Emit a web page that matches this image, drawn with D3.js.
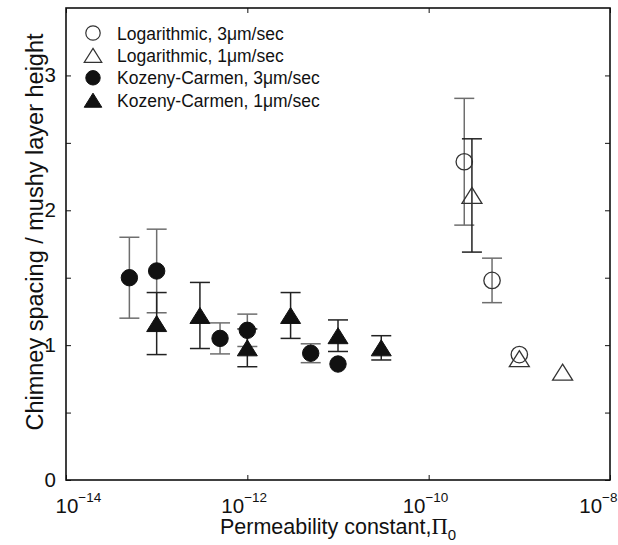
<!DOCTYPE html>
<html>
<head>
<meta charset="utf-8">
<script src="https://cdn.jsdelivr.net/npm/d3@7"></script>
<style>
  html, body { margin: 0; padding: 0; background: #fff; }
  svg { display: block; font-family: "Liberation Sans", Arial, Helvetica, sans-serif; }
</style>
</head>
<body>
<svg id="chart" width="618" height="545"></svg>
<script>
// Chimney spacing vs permeability constant, two permeability models at two pulling speeds
const logCircleX = [2.47e-10, 5e-10, 1e-9];
const logCircleY = [2.36, 1.48, 0.93];
const logCircleErr = [0.47, 0.165, 0];

const logTriX = [3e-10, 1e-9, 3e-9];
const logTriY = [2.11, 0.90, 0.80];
const logTriErr = [0.42, 0, 0];

const kcCircleX = [5e-14, 1e-13, 5e-13, 1e-12, 5e-12, 1e-11];
const kcCircleY = [1.50, 1.55, 1.05, 1.11, 0.94, 0.86];
const kcCircleErr = [0.30, 0.31, 0.115, 0.12, 0.07, 0];

const kcTriX = [1e-13, 3e-13, 1e-12, 3e-12, 1e-11, 3e-11];
const kcTriY = [1.16, 1.22, 0.98, 1.22, 1.07, 0.98];
const kcTriErr = [0.23, 0.245, 0.14, 0.17, 0.117, 0.09];

const xTickValues = [1e-14, 1e-12, 1e-10, 1e-8];
const xTickExponents = ["\u221214", "\u221212", "\u221210", "\u22128"];
const yTickValues = [0, 1, 2, 3];
const yMinorTicks = [0.5, 1.5, 2.5];

const legendLabels = [
  "Logarithmic, 3\u03BCm/sec",
  "Logarithmic, 1\u03BCm/sec",
  "Kozeny-Carmen, 3\u03BCm/sec",
  "Kozeny-Carmen, 1\u03BCm/sec"
];

const W = 618, H = 545;
const m = { left: 66, right: 8, top: 8, bottom: 65 };
const svg = d3.select("#chart");

const x = d3.scaleLog().domain([1e-14, 1e-8]).range([m.left, W - m.right]);
const y = d3.scaleLinear().domain([0, 3.5]).range([H - m.bottom, m.top]);

const zip = (xs, ys, es) => xs.map((v, i) => ({ x: v, y: ys[i], e: es[i] }));
const series = [
  { key: "logC", shape: "circle", filled: false, bar: "#6e6e6e", data: zip(logCircleX, logCircleY, logCircleErr) },
  { key: "logT", shape: "triangle", filled: false, bar: "#222", data: zip(logTriX, logTriY, logTriErr) },
  { key: "kcC", shape: "circle", filled: true, bar: "#6e6e6e", data: zip(kcCircleX, kcCircleY, kcCircleErr) },
  { key: "kcT", shape: "triangle", filled: true, bar: "#222", data: zip(kcTriX, kcTriY, kcTriErr) }
];

// Marker path builders (centered on the bounding box)
function markerPath(shape, s) {
  const p = d3.path();
  if (shape === "circle") {
    const r = 8.2 * s;
    p.arc(0, 0, r, 0, 2 * Math.PI);
  } else {
    const hw = 10 * s, hh = 8 * s;
    p.moveTo(0, -hh);
    p.lineTo(hw, hh);
    p.lineTo(-hw, hh);
    p.closePath();
  }
  return p.toString();
}

// Axes (ticks inward on all four sides)
const gx = svg.append("g")
  .attr("transform", `translate(0,${y(0)})`)
  .call(d3.axisBottom(x).tickValues(xTickValues).tickSizeInner(-5).tickSizeOuter(0).tickPadding(12).tickFormat(() => ""));
const nTicks = xTickValues.length;
gx.selectAll(".tick").each(function(d, i) {
  const t = d3.select(this).select("text")
    .attr("font-size", 20.5).attr("fill", "#111").attr("dy", "1em")
    .attr("text-anchor", "start");
  t.append("tspan").text("10");
  t.append("tspan").attr("font-size", 13.5).attr("dy", "-0.8em").text(xTickExponents[i]);
  const len = t.node().getComputedTextLength();
  let offset = -26.5;
  if (i === 0) offset = -11;                       // first label sits inside the frame corner
  if (i === nTicks - 1) offset = (W - 1) - x(d) - len; // last label flush with the page edge
  t.attr("x", offset);
});

svg.append("g")
  .attr("transform", `translate(0,${y(3.5)})`)
  .call(d3.axisBottom(x).tickValues(xTickValues).tickSizeInner(5).tickSizeOuter(0).tickFormat(() => ""));

const gy = svg.append("g")
  .attr("transform", `translate(${x(1e-14)},0)`)
  .call(d3.axisLeft(y).tickValues(yTickValues).tickSizeInner(-5).tickSizeOuter(0).tickPadding(10).tickFormat(d3.format("d")));
gy.selectAll(".tick text").attr("font-size", 20.5).attr("fill", "#111");

svg.append("g")
  .attr("transform", `translate(${x(1e-14)},0)`)
  .call(d3.axisLeft(y).tickValues(yMinorTicks).tickSizeInner(-5).tickSizeOuter(0).tickFormat(() => ""));

svg.append("g")
  .attr("transform", `translate(${x(1e-8)},0)`)
  .call(d3.axisLeft(y).tickValues(yTickValues.concat(yMinorTicks)).tickSizeInner(5).tickSizeOuter(0).tickFormat(() => ""));

svg.selectAll(".domain").remove();
svg.selectAll(".tick line").attr("stroke", "#111").attr("stroke-width", 1);

// Plot frame
svg.append("rect")
  .attr("x", x(1e-14)).attr("y", y(3.5))
  .attr("width", x(1e-8) - x(1e-14)).attr("height", y(0) - y(3.5))
  .attr("fill", "none").attr("stroke", "#111").attr("stroke-width", 1.6);

// Error bars
const capHalf = 10;
series.forEach(s => {
  const g = svg.append("g").attr("class", "err-" + s.key)
    .attr("stroke", s.bar).attr("stroke-width", 1.5).attr("fill", "none");
  s.data.filter(d => d.e > 0).forEach(d => {
    const cx = x(d.x), y1 = y(d.y + d.e), y2 = y(d.y - d.e);
    g.append("line").attr("x1", cx).attr("x2", cx).attr("y1", y1).attr("y2", y2);
    g.append("line").attr("x1", cx - capHalf).attr("x2", cx + capHalf).attr("y1", y1).attr("y2", y1);
    g.append("line").attr("x1", cx - capHalf).attr("x2", cx + capHalf).attr("y1", y2).attr("y2", y2);
  });
});

// Markers
series.forEach(s => {
  svg.append("g").attr("class", "pts-" + s.key)
    .selectAll("path").data(s.data).join("path")
    .attr("transform", d => `translate(${x(d.x)},${y(d.y)})`)
    .attr("d", markerPath(s.shape, 1))
    .attr("fill", s.filled ? "#111" : "none")
    .attr("stroke", s.filled ? "#111" : "#333")
    .attr("stroke-width", s.filled ? 1 : 1.3);
});

// Legend
const legend = svg.append("g").attr("transform", "translate(93,33)");
series.forEach((s, i) => {
  const row = legend.append("g").attr("transform", `translate(0,${i * 22.4})`);
  row.append("path")
    .attr("d", markerPath(s.shape, 0.88))
    .attr("fill", s.filled ? "#111" : "none")
    .attr("stroke", s.filled ? "#111" : "#333")
    .attr("stroke-width", s.filled ? 1 : 1.2);
  row.append("text")
    .attr("x", 24).attr("y", 6.5)
    .attr("font-size", 17.5).attr("fill", "#111")
    .text(legendLabels[i]);
});

// Axis titles
const xt = svg.append("text")
  .attr("x", (x(1e-14) + x(1e-8)) / 2).attr("y", 534)
  .attr("text-anchor", "middle").attr("font-size", 21.5).attr("fill", "#111");
xt.append("tspan").text("Permeability constant,");
xt.append("tspan").attr("font-family", "'Liberation Serif', 'Times New Roman', serif").attr("font-size", 22.5).text("\u03A0");
xt.append("tspan").attr("font-size", 15).attr("dy", 6).text("0");

svg.append("text")
  .attr("transform", `translate(43,${(y(0) + y(3.5)) / 2 - 12}) rotate(-90)`)
  .attr("text-anchor", "middle").attr("font-size", 23.5).attr("fill", "#111")
  .text("Chimney spacing / mushy layer height");
</script>
</body>
</html>
